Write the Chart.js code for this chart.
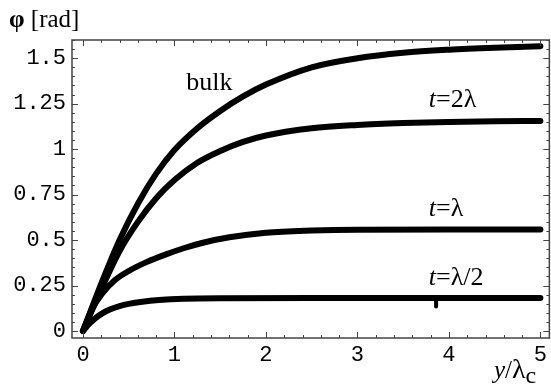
<!DOCTYPE html>
<html>
<head>
<meta charset="utf-8">
<script src="https://cdn.jsdelivr.net/npm/chart.js@4.4.1/dist/chart.umd.min.js"></script>
<style>
  html, body { margin: 0; padding: 0; background: #fff; }
  #wrap { width: 551px; height: 390px; }
</style>
</head>
<body>
<div id="wrap"><canvas id="phase" width="551" height="390"></canvas></div>
<script>
// phase profiles phi(y) for the bulk and for films of thickness t
const bulkX = [0, 0.2, 0.4, 0.6, 0.8, 1.0, 1.25, 1.5, 1.75, 2.0, 2.5, 3.0, 3.5, 4.0, 4.5, 5.0];
const bulkY = [0, 0.26, 0.50, 0.70, 0.865, 0.995, 1.115, 1.21, 1.29, 1.355, 1.45, 1.50, 1.53, 1.547, 1.558, 1.566];

const t2X = [0, 0.2, 0.4, 0.6, 0.8, 1.0, 1.25, 1.5, 1.75, 2.0, 2.5, 3.0, 3.5, 4.0, 4.5, 5.0];
const t2Y = [0, 0.23, 0.44, 0.60, 0.73, 0.83, 0.925, 0.99, 1.04, 1.075, 1.115, 1.133, 1.143, 1.149, 1.153, 1.155];

const t1X = [0, 0.1, 0.2, 0.35, 0.5, 0.7, 0.9, 1.1, 1.3, 1.6, 2.0, 2.5, 3.0, 4.0, 5.0];
const t1Y = [0, 0.12, 0.20, 0.28, 0.33, 0.38, 0.42, 0.455, 0.484, 0.515, 0.54, 0.552, 0.557, 0.558, 0.558];

const tHalfX = [0, 0.07, 0.14, 0.22, 0.3, 0.4, 0.5, 0.65, 0.83, 1.1, 1.5, 2.5, 5.0];
const tHalfY = [0, 0.04, 0.072, 0.1, 0.12, 0.137, 0.149, 0.161, 0.17, 0.177, 0.18, 0.181, 0.181];

// small plotting glitch on the t=λ/2 curve
const glitchX = [3.86, 3.86];
const glitchY = [0.178, 0.135];

const xTicks = [0, 1, 2, 3, 4, 5];
const yTicks = [0, 0.25, 0.5, 0.75, 1, 1.25, 1.5];
const yTickLabels = ["0", "0.25", "0.5", "0.75", "1", "1.25", "1.5"];

const curveLabels = [
  { x: 1.13, y: 1.36, runs: [["bulk", ""]] },
  { x: 3.78, y: 1.27, runs: [["t", "italic "], ["=2λ", ""]] },
  { x: 3.78, y: 0.67, runs: [["t", "italic "], ["=λ", ""]] },
  { x: 3.78, y: 0.29, runs: [["t", "italic "], ["=λ/2", ""]] },
];

const SERIF = '"Liberation Serif", "Times New Roman", serif';
const MONO = '"Courier New", "Liberation Mono", monospace';
const FRAME = "#444";

function pts(xs, ys) {
  return xs.map((x, i) => ({ x, y: ys[i] }));
}

function curve(xs, ys) {
  return {
    data: pts(xs, ys),
    showLine: true,
    borderColor: "#000",
    borderWidth: 6,
    borderCapStyle: "round",
    borderJoinStyle: "round",
    cubicInterpolationMode: "monotone",
    pointRadius: 0,
    clip: false,
  };
}

function range(from, to, step) {
  const out = [];
  for (let v = from; v <= to + 1e-9; v += step) out.push(Math.round(v * 1000) / 1000);
  return out;
}

function isMajor(v, list) {
  return list.some((m) => Math.abs(m - v) < 1e-6);
}

// draw a row of text pieces with their own font styles
function drawRuns(c, x, y, runs, size) {
  let cx = x;
  for (const [text, style, sz, dy] of runs) {
    c.font = `${style}${sz || size}px ${SERIF}`;
    c.fillText(text, cx, y + (dy || 0));
    cx += c.measureText(text).width;
  }
}

const framePlugin = {
  id: "frame",
  afterDraw(chart) {
    const c = chart.ctx;
    const { left, right, top, bottom } = chart.chartArea;
    const xs = chart.scales.x;
    const ys = chart.scales.y;
    c.save();
    c.strokeStyle = FRAME;
    c.lineWidth = 1.5;
    c.strokeRect(left, top, right - left, bottom - top);

    // inward ticks on all four sides
    c.lineWidth = 1;
    c.beginPath();
    for (const t of xs.ticks) {
      const px = Math.round(xs.getPixelForValue(t.value)) + 0.5;
      const len = isMajor(t.value, xTicks) ? 6 : 3;
      c.moveTo(px, bottom); c.lineTo(px, bottom - len);
      c.moveTo(px, top); c.lineTo(px, top + len);
    }
    for (const t of ys.ticks) {
      const py = Math.round(ys.getPixelForValue(t.value)) + 0.5;
      const len = isMajor(t.value, yTicks) ? 6 : 3;
      c.moveTo(left, py); c.lineTo(left + len, py);
      c.moveTo(right, py); c.lineTo(right - len, py);
    }
    c.stroke();

    c.fillStyle = "#000";
    c.textBaseline = "middle";
    c.textAlign = "left";
    for (const lab of curveLabels) {
      drawRuns(c, xs.getPixelForValue(lab.x), ys.getPixelForValue(lab.y), lab.runs, 26);
    }

    // axis titles
    c.textBaseline = "alphabetic";
    drawRuns(c, 9, 27, [["φ", "bold "], [" [rad]", ""]], 25);
    drawRuns(c, 494, 378, [["y", "italic "], ["/", ""], ["λ", "", 28], ["c", "", 24, 5]], 25);
    c.restore();
  },
};

new Chart(document.getElementById("phase"), {
  type: "scatter",
  data: {
    datasets: [
      curve(bulkX, bulkY),
      curve(t2X, t2Y),
      curve(t1X, t1Y),
      curve(tHalfX, tHalfY),
      Object.assign(curve(glitchX, glitchY), { borderWidth: 4, cubicInterpolationMode: "default" }),
    ],
  },
  options: {
    responsive: false,
    animation: false,
    devicePixelRatio: 1,
    layout: { padding: { left: 0, top: 40, right: 0, bottom: 0 } },
    plugins: { legend: { display: false }, tooltip: { enabled: false } },
    scales: {
      x: {
        type: "linear",
        min: -0.12,
        max: 5.098,
        grid: { display: false, drawTicks: false },
        border: { display: false },
        afterBuildTicks: (s) => { s.ticks = range(0, 5, 0.2).map((value) => ({ value })); },
        afterFit: (s) => { s.height = 52; },
        ticks: {
          autoSkip: false,
          maxRotation: 0,
          padding: 4,
          color: "#000",
          font: { family: MONO, size: 22 },
          callback: (v) => (isMajor(v, xTicks) ? String(Math.round(v)) : ""),
        },
      },
      y: {
        type: "linear",
        min: -0.0385,
        max: 1.6,
        grid: { display: false, drawTicks: false },
        border: { display: false },
        afterBuildTicks: (s) => { s.ticks = range(0, 1.6, 0.05).map((value) => ({ value })); },
        afterFit: (s) => { s.width = 72; },
        ticks: {
          autoSkip: false,
          padding: 6,
          color: "#000",
          font: { family: MONO, size: 22 },
          callback: (v) => {
            const i = yTicks.findIndex((m) => Math.abs(m - v) < 1e-6);
            return i >= 0 ? yTickLabels[i] : "";
          },
        },
      },
    },
  },
  plugins: [framePlugin],
});
</script>
</body>
</html>
